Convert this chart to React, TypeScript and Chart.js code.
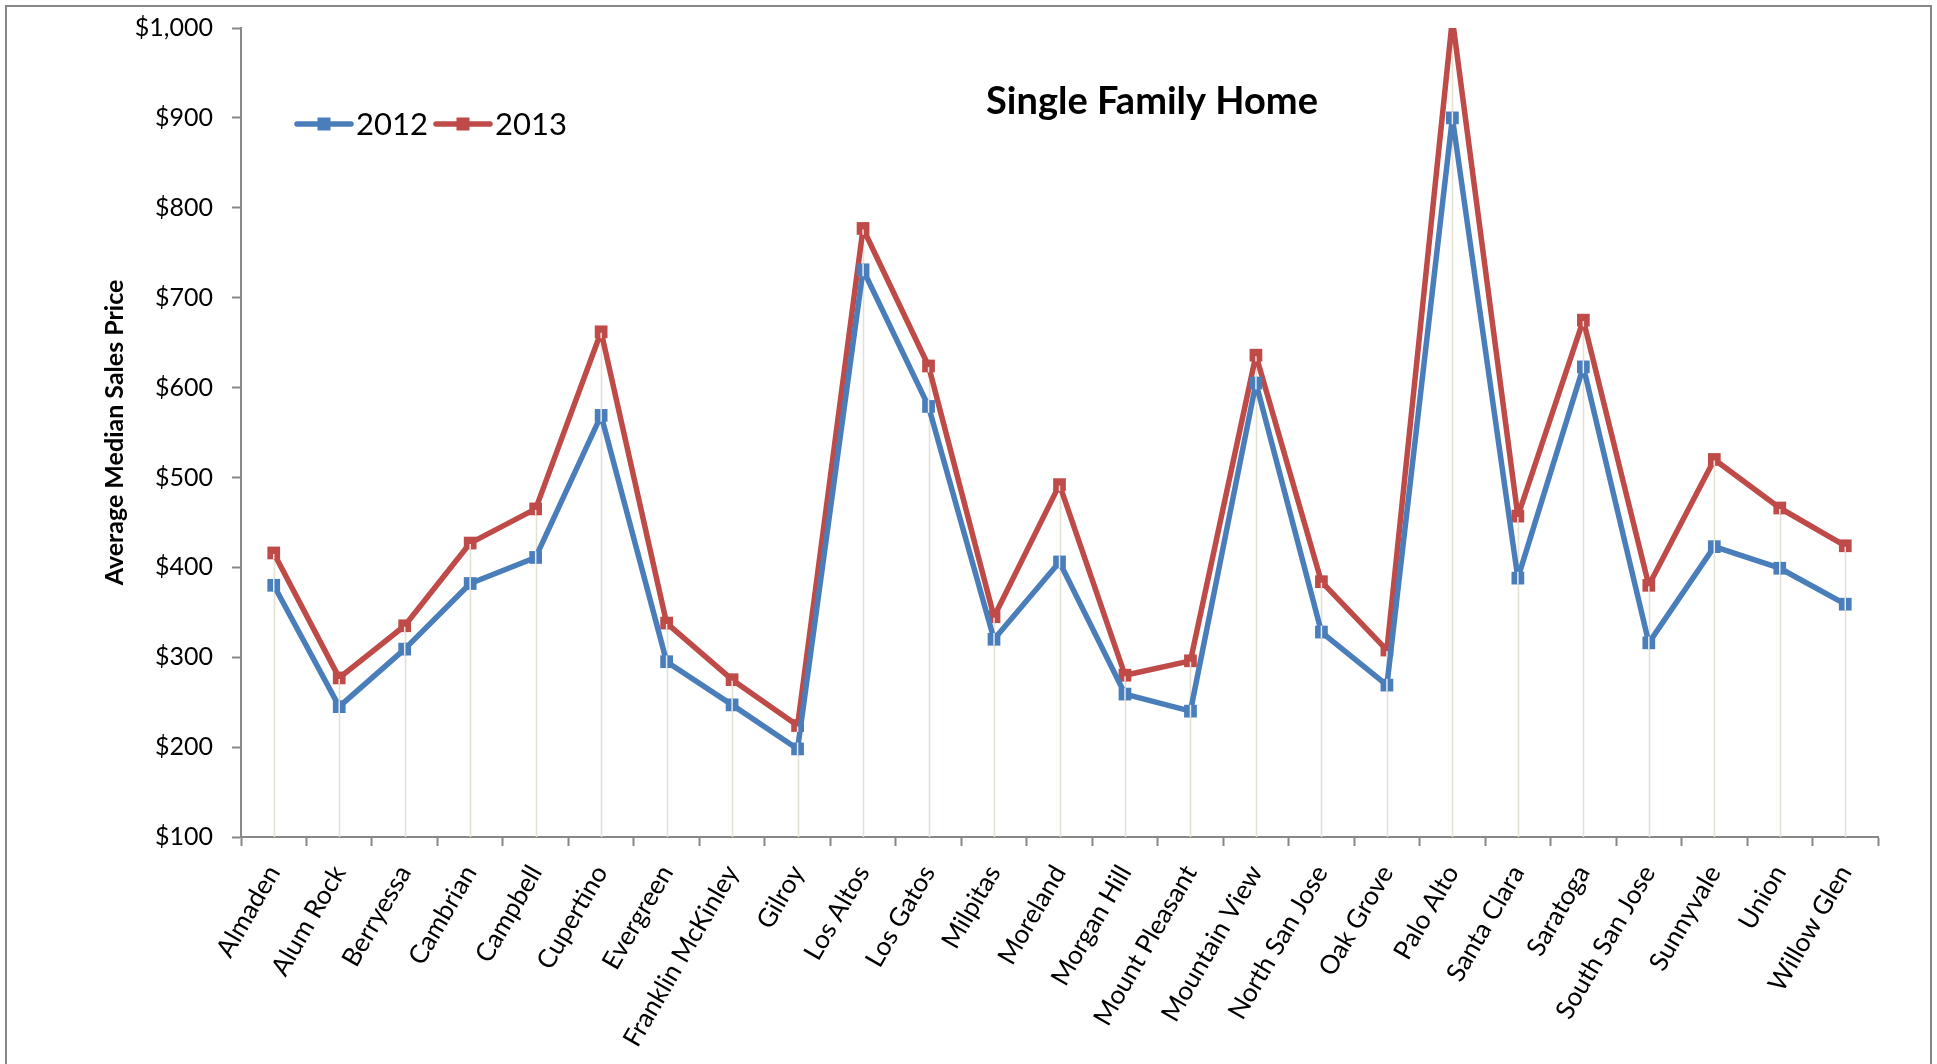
import React, { useEffect, useRef } from "react";
import { Chart, registerables } from "chart.js";

Chart.register(...registerables);

const categories = [
  "Almaden", "Alum Rock", "Berryessa", "Cambrian", "Campbell", "Cupertino",
  "Evergreen", "Franklin McKinley", "Gilroy", "Los Altos", "Los Gatos", "Milpitas",
  "Moreland", "Morgan Hill", "Mount Pleasant", "Mountain View", "North San Jose",
  "Oak Grove", "Palo Alto", "Santa Clara", "Saratoga", "South San Jose", "Sunnyvale",
  "Union", "Willow Glen",
];
const values2012 = [380, 245, 309, 382, 411, 569, 295, 247, 198, 731, 579, 320, 406, 259, 240, 605, 328, 269, 900, 388, 623, 316, 423, 399, 359];
const values2013 = [416, 277, 335, 427, 465, 662, 338, 275, 224, 777, 624, 345, 492, 280, 296, 636, 384, 308, 1010, 457, 675, 380, 520, 466, 424];
const seriesLabels = ["2012", "2013"];
const seriesColors = ["#4A7EBB", "#BE4B48"];
const yTickLabels = ["$100", "$200", "$300", "$400", "$500", "$600", "$700", "$800", "$900", "$1,000"];
const chartTitle = "Single Family Home";
const yAxisTitle = "Average Median Sales Price";

const FONT = "Lato, 'Open Sans', sans-serif";
const AXIS_GRAY = "#878787";
const MARKER_RADIUS = 9;

const frameAndBackground = {
  id: "frameAndBackground",
  beforeDraw(chart: any) {
    const { ctx, width, height } = chart;
    ctx.save();
    ctx.fillStyle = "#ffffff";
    ctx.fillRect(0, 0, width, height);
    ctx.strokeStyle = AXIS_GRAY;
    ctx.lineWidth = 2;
    ctx.strokeRect(6, 6, width - 12, height + 40);
    ctx.restore();
  },
};

const dropLines = {
  id: "dropLines",
  beforeDatasetsDraw(chart: any) {
    const { ctx, chartArea, scales } = chart;
    const xs = scales.x;
    const ys = scales.y;
    ctx.save();
    ctx.beginPath();
    ctx.rect(chartArea.left, chartArea.top, chartArea.right - chartArea.left, chartArea.bottom - chartArea.top);
    ctx.clip();
    ctx.strokeStyle = "#E6E2D3";
    ctx.lineWidth = 1.6;
    categories.forEach((_, i) => {
      const top = Math.max(values2012[i], values2013[i]);
      const px = Math.round(xs.getPixelForValue(i)) + 0.5;
      ctx.beginPath();
      ctx.moveTo(px, ys.getPixelForValue(top));
      ctx.lineTo(px, chartArea.bottom);
      ctx.stroke();
    });
    ctx.restore();
  },
};

const markerNotches = {
  id: "markerNotches",
  afterDatasetsDraw(chart: any) {
    const { ctx, chartArea } = chart;
    const half = MARKER_RADIUS * Math.SQRT1_2;
    ctx.save();
    ctx.beginPath();
    ctx.rect(chartArea.left, chartArea.top, chartArea.right - chartArea.left, chartArea.bottom - chartArea.top);
    ctx.clip();
    ctx.strokeStyle = "rgba(255,255,255,0.85)";
    ctx.lineWidth = 1.5;
    chart.data.datasets.forEach((_: any, di: number) => {
      const meta = chart.getDatasetMeta(di);
      meta.data.forEach((p: any) => {
        ctx.beginPath();
        ctx.moveTo(p.x, di === 0 ? p.y - half : p.y + 1);
        ctx.lineTo(p.x, p.y + half);
        ctx.stroke();
      });
    });
    ctx.restore();
  },
};

const titleAndLegend = {
  id: "titleAndLegend",
  afterDraw(chart: any) {
    const { ctx } = chart;
    ctx.save();
    ctx.fillStyle = "#000";
    ctx.font = `bold 38px ${FONT}`;
    ctx.textAlign = "center";
    ctx.textBaseline = "alphabetic";
    ctx.fillText(chartTitle, 1152, 114);
    ctx.font = `31px ${FONT}`;
    ctx.textAlign = "left";
    const starts = [297, 436];
    seriesLabels.forEach((lab, i) => {
      const x0 = starts[i];
      const y0 = 124;
      ctx.strokeStyle = seriesColors[i];
      ctx.lineWidth = 5.5;
      ctx.lineCap = "round";
      ctx.beginPath();
      ctx.moveTo(x0, y0);
      ctx.lineTo(x0 + 54, y0);
      ctx.stroke();
      ctx.fillStyle = seriesColors[i];
      ctx.fillRect(x0 + 27 - 6.5, y0 - 6.5, 13, 13);
      ctx.fillStyle = "#000";
      ctx.fillText(lab, x0 + 59, 135);
    });
    ctx.restore();
  },
};

export default function App() {
  const canvasRef = useRef<HTMLCanvasElement | null>(null);

  useEffect(() => {
    const canvas = canvasRef.current;
    if (!canvas) return;
    const chart = new Chart(canvas, {
      type: "line",
      data: {
        labels: categories,
        datasets: [values2012, values2013].map((vals, i) => ({
          label: seriesLabels[i],
          data: vals,
          borderColor: seriesColors[i],
          backgroundColor: seriesColors[i],
          borderWidth: 5.5,
          borderJoinStyle: "round" as const,
          borderCapStyle: "round" as const,
          tension: 0,
          pointStyle: "rect" as const,
          pointRadius: MARKER_RADIUS,
          pointBorderWidth: 0,
          pointBackgroundColor: seriesColors[i],
          fill: false,
          clip: 0,
        })),
      },
      options: {
        responsive: false,
        devicePixelRatio: 1,
        animation: false,
        layout: { padding: { left: 100, right: 59, top: 28, bottom: 0 } },
        plugins: {
          legend: { display: false },
          title: { display: false },
          tooltip: { enabled: false },
        },
        scales: {
          x: {
            type: "category",
            offset: true,
            grid: {
              display: true,
              offset: true,
              drawOnChartArea: false,
              drawTicks: true,
              tickLength: 9,
              tickColor: AXIS_GRAY,
              tickWidth: 2,
            },
            border: { display: true, color: AXIS_GRAY, width: 2 },
            ticks: {
              autoSkip: false,
              minRotation: 60,
              maxRotation: 60,
              color: "#000",
              font: { family: FONT, size: 26 },
              padding: 14,
            },
            afterFit: (s: any) => {
              s.height = 227;
              s.paddingLeft = 0;
              s.paddingRight = 0;
            },
          },
          y: {
            min: 100,
            max: 1000,
            grid: {
              display: true,
              drawOnChartArea: false,
              drawTicks: true,
              tickLength: 9,
              tickColor: AXIS_GRAY,
              tickWidth: 2,
            },
            border: { display: true, color: AXIS_GRAY, width: 2 },
            ticks: {
              stepSize: 100,
              color: "#000",
              font: { family: FONT, size: 25 },
              padding: 19,
              callback: (_v: any, i: number) => yTickLabels[i],
            },
            title: {
              display: true,
              text: yAxisTitle,
              color: "#000",
              font: { family: FONT, size: 25, weight: "bold" },
              padding: 0,
            },
            afterFit: (s: any) => {
              s.width = 141;
              s.paddingTop = 0;
              s.paddingBottom = 0;
            },
          },
        },
      },
      plugins: [frameAndBackground, dropLines, markerNotches, titleAndLegend],
    });
    return () => chart.destroy();
  }, []);

  return (
    <div style={{ position: "fixed", left: 0, top: 0, width: 1937, height: 1064, background: "#fff" }}>
      <canvas ref={canvasRef} width={1937} height={1064} style={{ display: "block", width: 1937, height: 1064 }} />
    </div>
  );
}
